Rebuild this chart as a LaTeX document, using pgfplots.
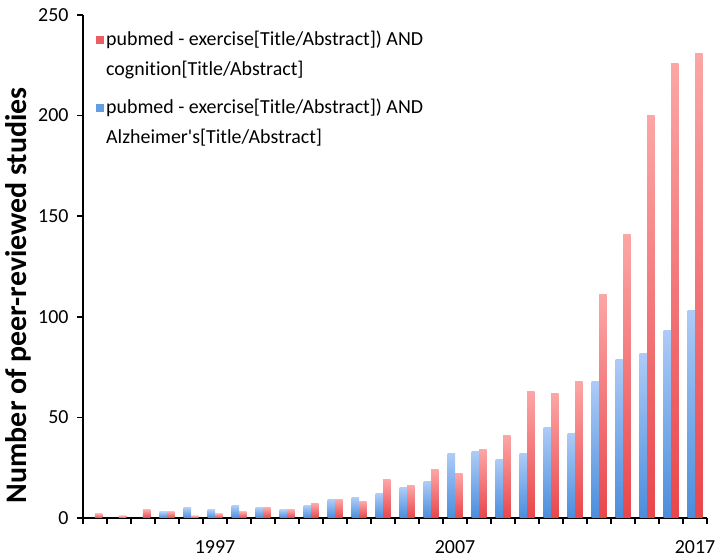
\documentclass[border=0pt]{standalone}
\usepackage{fontspec}
\setmainfont{Carlito}[Ligatures={TeXOff,NoCommon}]
\usepackage{pgfplots}
\usepackage{pgfplotstable}
\pgfplotsset{compat=1.18}
\definecolor{redtop}{HTML}{FCA6A6}
\definecolor{redbot}{HTML}{E8464B}
\definecolor{bluetop}{HTML}{ADCBF7}
\definecolor{bluebot}{HTML}{4A8DDC}
\pgfplotstableread{
year alz cog
1992 0 2
1993 0 1
1994 0 4
1995 3 3
1996 5 1
1997 4 2
1998 6 3
1999 5 5
2000 4 4
2001 6 7
2002 9 9
2003 10 8
2004 12 19
2005 15 16
2006 18 24
2007 32 22
2008 33 34
2009 29 41
2010 32 63
2011 45 62
2012 42 68
2013 68 111
2014 79 141
2015 82 200
2016 93 226
2017 103 231
}\data
\begin{document}
\begin{tikzpicture}
\useasboundingbox (-83bp,-42bp) rectangle (637bp,518bp);
\begin{axis}[
  scale only axis, width=624bp, height=503bp,
  xmin=1991.5, xmax=2017.5, ymin=0, ymax=250,
  axis x line=bottom, axis y line=left,
  axis line style={-, line width=1.5pt, black},
  ytick={0,50,...,250},
  xtick={1991.5,1992.5,...,2017.5}, xticklabels={},
  extra x ticks={1997,2007,2017},
  extra x tick labels={1997,2007,2017},
  extra x tick style={major tick length=0pt, xticklabel style={yshift=-19bp}},
  tick align=outside, major tick length=6bp,
  tick style={line width=1.5pt, black},
  ticklabel style={font=\fontsize{20}{24}\selectfont},
  yticklabel style={xshift=-5bp},
  /pgf/number format/assume math mode=true,
  ylabel={Number of peer-reviewed studies},
  ylabel style={font=\bfseries\fontsize{30}{34}\selectfont, at={(ticklabel cs:0.443)}},
  legend cell align=left,
  legend style={at={(axis description cs:0.016,0.976)}, anchor=north west,
    draw=none, fill=none, font=\fontsize{20}{30}\selectfont,
    cells={align=left}, row sep=18bp},
]
\pgfplotsinvokeforeach{1992,...,2017}{
  \addplot[forget plot, ybar, bar width=7.5bp, bar shift=-3.75bp, draw=none,
    top color=bluetop, bottom color=bluebot,
    x filter/.expression={abs(x-#1)<0.3 ? x : nan},
    y filter/.expression={y<0.5 ? nan : y}]
    table[x=year, y=alz] {\data};
  \addplot[forget plot, ybar, bar width=7.5bp, bar shift=3.75bp, draw=none,
    top color=redtop, bottom color=redbot,
    x filter/.expression={abs(x-#1)<0.3 ? x : nan},
    y filter/.expression={y<0.5 ? nan : y}]
    table[x=year, y=cog] {\data};
}
\addlegendimage{legend image code/.code={\path[draw=none, fill=none] (0bp,-18bp) rectangle (8bp,18bp);
  \fill[draw=none, redbot!75!redtop] (0bp,10bp) rectangle (8bp,18bp);}}
\addlegendentry{pubmed - exercise[Title/Abstract]) AND\\cognition[Title/Abstract]}
\addlegendimage{legend image code/.code={\path[draw=none, fill=none] (0bp,-18bp) rectangle (8bp,18bp);
  \fill[draw=none, bluebot!75!bluetop] (0bp,10bp) rectangle (8bp,18bp);}}
\addlegendentry{pubmed - exercise[Title/Abstract]) AND\\Alzheimer's[Title/Abstract]}
\end{axis}
\end{tikzpicture}
\end{document}
